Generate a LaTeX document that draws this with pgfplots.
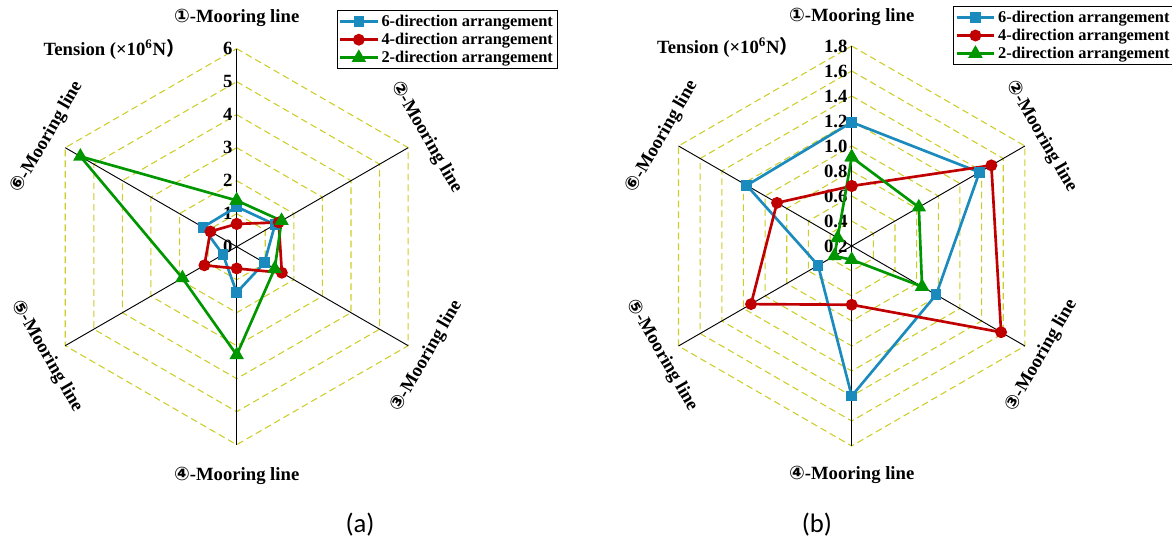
\documentclass[border=0pt]{standalone}
\usepackage{fontspec}
\setmainfont{Liberation Serif}
\newfontfamily\circfont{DejaVu Sans}
\newfontfamily\cjk{Noto Sans CJK SC}
\newfontfamily\capfont{Carlito}
\usepackage{pgfplots}
\usepackage{pgfplotstable}
\pgfplotsset{compat=1.18}

\definecolor{cblue}{RGB}{27,138,189}
\definecolor{cred}{RGB}{192,0,0}
\definecolor{cgreen}{RGB}{0,150,0}
\definecolor{cgrid}{RGB}{205,205,40}

% angle (deg), 6-direction, 4-direction, 2-direction ; last row closes the polygon
\pgfplotstableread{
ang six four two
90   1.21 0.69 1.40
30   1.34 1.47 1.57
-30  0.97 1.58 1.33
-90  1.39 0.66 3.28
-150 0.48 1.13 1.90
150  1.18 0.92 5.47
90   1.21 0.69 1.40
}\dataA

\pgfplotstableread{
ang six four two
90   1.19 0.68 0.91
30   1.38 1.49 0.82
-30  0.98 1.58 0.85
-90  1.40 0.67 0.31
-150 0.51 1.13 0.36
150  1.17 0.89 0.33
90   1.19 0.68 0.91
}\dataB

\newcommand{\ml}[1]{{\circfont #1}-Mooring line}
\newcommand{\lblfont}{\fontsize{14}{16}\selectfont\bfseries}
\newcommand{\tickfont}{\fontsize{14}{16}\selectfont\bfseries}

\tikzset{
  gridst/.style={cgrid, line width=0.8pt, dash pattern=on 5pt off 3pt},
  spoke/.style={black, line width=0.7pt},
}
\pgfplotsset{
  radar/.style={
    x=0.75pt, y=0.75pt,
    xmin=-250, xmax=250, ymin=-250, ymax=250,
    hide axis, clip=false, anchor=center,
    legend cell align=left,
    legend style={draw=black, line width=0.8pt, fill=white,
      font=\fontsize{12.3}{13.3}\selectfont\bfseries,
      inner sep=1.2pt, row sep=-0.5pt, anchor=north west,
      /tikz/every even column/.append style={column sep=1pt}},
    legend image code/.code={%
      \draw[mark repeat=2,mark phase=2,##1] plot coordinates {(0pt,0pt) (14pt,0pt) (28pt,0pt)};},
  },
  sblue/.style={cblue, line width=2pt, mark=square*, mark size=3pt, mark options={solid}},
  sred/.style={cred, line width=2pt, mark=*, mark size=3.4pt, mark options={solid}},
  sgreen/.style={cgreen, line width=2pt, mark=triangle*, mark size=4.3pt, mark options={solid}},
}

\begin{document}
\begin{tikzpicture}

% ---------------- (a) ----------------
\begin{axis}[radar, at={(177.525pt,223.725pt)},
  legend style={at={(0.70,0.973)}}]
  \pgfplotsinvokeforeach{1,...,6}{
    \draw[gridst] (0,{33*#1}) -- ({33*#1*0.8660254},{33*#1*0.5}) -- ({33*#1*0.8660254},{-33*#1*0.5})
      -- (0,{-33*#1}) -- ({-33*#1*0.8660254},{-33*#1*0.5}) -- ({-33*#1*0.8660254},{33*#1*0.5}) -- cycle;
  }
  \pgfplotsinvokeforeach{90,30,-30,-90,-150,150}{
    \draw[spoke] (0,0) -- ({198*cos(#1)},{198*sin(#1)});
  }
  \pgfplotsinvokeforeach{0,...,6}{
    \node[anchor=east, font=\tickfont, inner sep=0pt] at (-4,{33*#1}) {#1};
  }
  \addplot[sblue] table[x expr={33*\thisrow{six}*cos(\thisrow{ang})}, y expr={33*\thisrow{six}*sin(\thisrow{ang})}] {\dataA};
  \addlegendentry{6-direction arrangement}
  \addplot[sred] table[x expr={33*\thisrow{four}*cos(\thisrow{ang})}, y expr={33*\thisrow{four}*sin(\thisrow{ang})}] {\dataA};
  \addlegendentry{4-direction arrangement}
  \addplot[sgreen] table[x expr={33*\thisrow{two}*cos(\thisrow{ang})}, y expr={33*\thisrow{two}*sin(\thisrow{ang})}] {\dataA};
  \addlegendentry{2-direction arrangement}

  \node[font=\lblfont] at (0,229) {\ml{①}};
  \node[font=\lblfont, rotate=-60] at ({219*cos(30)},{219*sin(30)}) {\ml{②}};
  \node[font=\lblfont, rotate=60] at ({219*cos(-30)},{219*sin(-30)}) {\ml{③}};
  \node[font=\lblfont] at (0,-229) {\ml{④}};
  \node[font=\lblfont, rotate=-60] at ({219*cos(210)},{219*sin(210)}) {\ml{⑤}};
  \node[font=\lblfont, rotate=60] at ({219*cos(150)},{219*sin(150)}) {\ml{⑥}};
  \node[font=\lblfont] at (-122.5,197) {Tension (×10\textsuperscript{6}N{\cjk ）}};
\end{axis}

% ---------------- (b) ----------------
\begin{axis}[radar, at={(638.775pt,224.25pt)},
  legend style={at={(0.7032,0.98)}}]
  \pgfplotsinvokeforeach{1,...,8}{
    \draw[gridst] (0,{25*#1}) -- ({25*#1*0.8660254},{25*#1*0.5}) -- ({25*#1*0.8660254},{-25*#1*0.5})
      -- (0,{-25*#1}) -- ({-25*#1*0.8660254},{-25*#1*0.5}) -- ({-25*#1*0.8660254},{25*#1*0.5}) -- cycle;
  }
  \pgfplotsinvokeforeach{90,30,-30,-90,-150,150}{
    \draw[spoke] (0,0) -- ({200*cos(#1)},{200*sin(#1)});
  }
  \pgfplotsinvokeforeach{0.2,0.4,0.6,0.8,1.0,1.2,1.4,1.6,1.8}{
    \node[anchor=east, font=\tickfont, inner sep=0pt] at (-4,{125*(#1-0.2)}) {#1};
  }
  \addplot[sblue] table[x expr={125*(\thisrow{six}-0.2)*cos(\thisrow{ang})}, y expr={125*(\thisrow{six}-0.2)*sin(\thisrow{ang})}] {\dataB};
  \addlegendentry{6-direction arrangement}
  \addplot[sred] table[x expr={125*(\thisrow{four}-0.2)*cos(\thisrow{ang})}, y expr={125*(\thisrow{four}-0.2)*sin(\thisrow{ang})}] {\dataB};
  \addlegendentry{4-direction arrangement}
  \addplot[sgreen] table[x expr={125*(\thisrow{two}-0.2)*cos(\thisrow{ang})}, y expr={125*(\thisrow{two}-0.2)*sin(\thisrow{ang})}] {\dataB};
  \addlegendentry{2-direction arrangement}

  \node[font=\lblfont] at (0,229) {\ml{①}};
  \node[font=\lblfont, rotate=-60] at ({219*cos(30)},{219*sin(30)}) {\ml{②}};
  \node[font=\lblfont, rotate=60] at ({219*cos(-30)},{219*sin(-30)}) {\ml{③}};
  \node[font=\lblfont] at (0,-229) {\ml{④}};
  \node[font=\lblfont, rotate=-60] at ({219*cos(210)},{219*sin(210)}) {\ml{⑤}};
  \node[font=\lblfont, rotate=60] at ({219*cos(150)},{219*sin(150)}) {\ml{⑥}};
  \node[font=\lblfont] at (-124,199) {Tension (×10\textsuperscript{6}N{\cjk ）}};
\end{axis}

\node[font=\capfont\fontsize{20}{22}\selectfont] at (270pt,15pt) {(a)};
\node[font=\capfont\fontsize{20}{22}\selectfont] at (612.75pt,15pt) {(b)};

\pgfresetboundingbox
\useasboundingbox (0,0) rectangle (879pt,408.75pt);
\end{tikzpicture}
\end{document}
